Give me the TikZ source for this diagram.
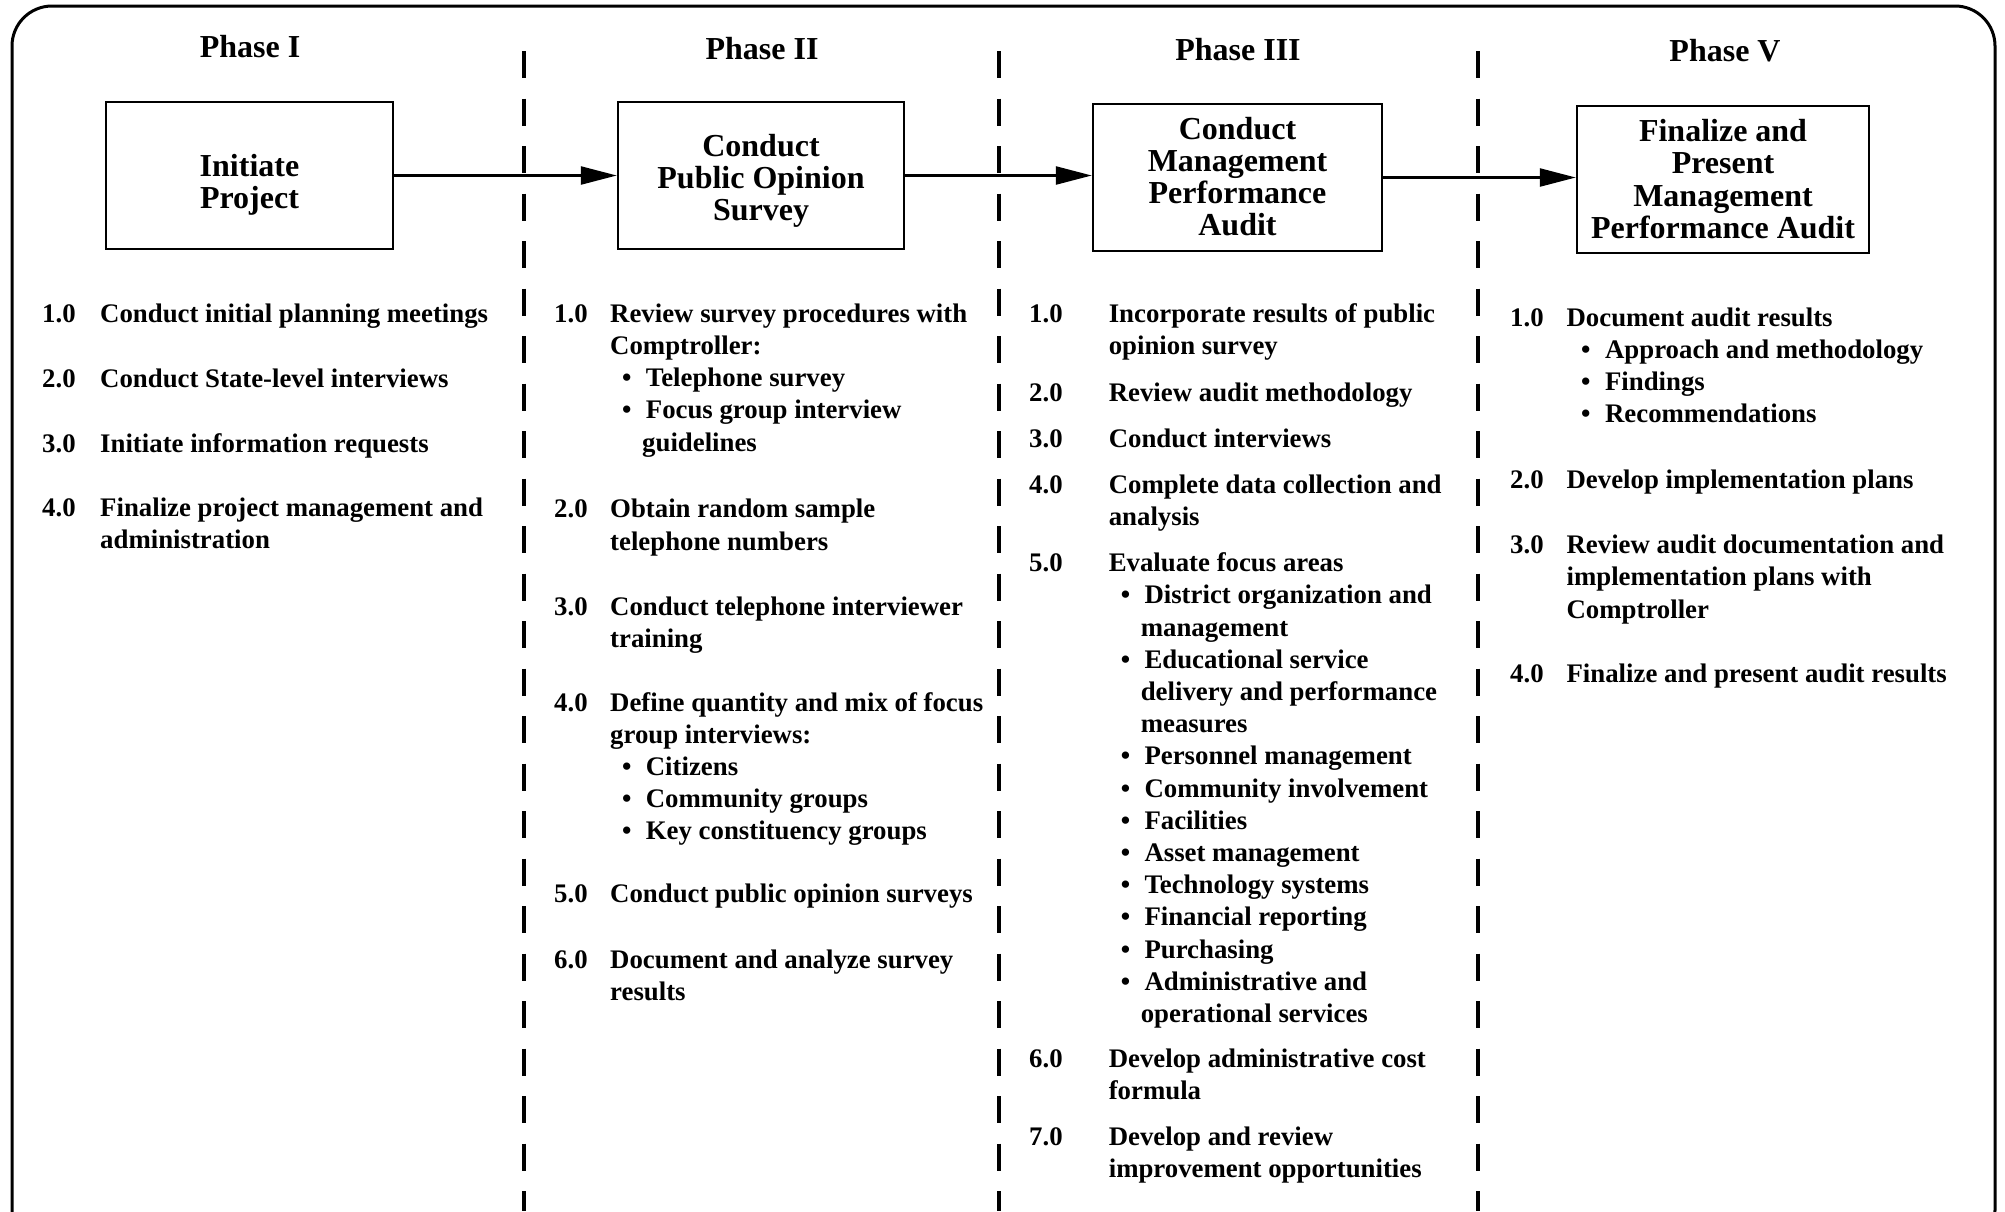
\documentclass[tikz,border=0pt]{standalone}
\usepackage{fontspec}
\setmainfont{Liberation Serif}
\usetikzlibrary{arrows.meta}

% type sizes for the task lists and for the stage boxes / headings
\newcommand\bodyfont{\fontsize{26.8}{32.2}\selectfont\bfseries}
\newcommand\boxfont{\fontsize{32}{32.3}\selectfont\bfseries}
% stacked lines whose baseline is the first line's
\newcommand\lines[1]{\begin{tabular}[t]{@{}l@{}}#1\end{tabular}}
\newcommand\clines[1]{\begin{tabular}[t]{@{}c@{}}#1\end{tabular}}
% bulleted sub-items and their continuation lines
\newcommand\bul[1]{\hspace*{12pt}\makebox[23.7pt][l]{\textbullet}#1}
\newcommand\bulw[1]{\hspace*{14.5pt}\makebox[24pt][l]{\textbullet}#1}
\newcommand\cont[1]{\hspace*{32pt}#1}

\begin{document}
\begin{tikzpicture}[x=1pt,y=-1pt,
  stage/.style={draw, line width=2.5pt, inner sep=0pt, minimum height=147pt},
  stagetext/.style={anchor=base, inner sep=0pt, font=\boxfont},
  phase/.style={anchor=base, inner sep=0pt, font=\boxfont},
  num/.style={anchor=base west, inner sep=0pt, font=\bodyfont},
  task/.style={anchor=base west, inner sep=0pt, font=\bodyfont},
  flow/.style={line width=2.5pt, -{Triangle[length=36pt,width=18pt]}},
  divider/.style={line width=3.5pt, dash pattern=on 27pt off 20.5pt},
  frame/.style={line width=3pt, rounded corners=40pt},
]
\useasboundingbox (0,0) rectangle (2005,1211);
\clip (0,0) rectangle (2005,1211);

% outer frame
\draw[frame] (12,6) rectangle (1995,1250);

% phase dividers
\coordinate (d1top) at (524,51);   \coordinate (d1bot) at (524,1211);
\coordinate (d2top) at (999,51);   \coordinate (d2bot) at (999,1211);
\coordinate (d3top) at (1478,51);  \coordinate (d3bot) at (1478,1211);
\draw[divider] (d1top) -- (d1bot);
\draw[divider] (d2top) -- (d2bot);
\draw[divider] (d3top) -- (d3bot);

% phase headings
\node[phase] (h1) at (250,57.5)  {Phase I};
\node[phase] (h2) at (762,59)    {Phase II};
\node[phase] (h3) at (1238,60.5) {Phase III};
\node[phase] (h4) at (1725,61.5) {Phase V};

% stage boxes
\node[stage, minimum width=287pt] (s1) at (249.5,175.5) {};
\node[stage, minimum width=286pt] (s2) at (761,175.5) {};
\node[stage, minimum width=289pt] (s3) at (1237.5,177.5) {};
\node[stage, minimum width=292pt] (s4) at (1723,179.5) {};
\node[stagetext] (s1t) at (249.5,176)  {\clines{Initiate\\Project}};
\node[stagetext] (s2t) at (761,156)    {\clines{Conduct\\Public Opinion\\Survey}};
\node[stagetext] (s3t) at (1237.5,139) {\clines{Conduct\\Management\\Performance\\Audit}};
\node[stagetext] (s4t) at (1723,141.5) {\clines{Finalize and\\Present\\Management\\Performance Audit}};

% flow between stages
\draw[flow] (s1.east) -- (s2.west);
\draw[flow] (s2.east) -- (s2.east -| s3.west);
\draw[flow] (s3.east) -- (s3.east -| s4.west);

% Phase I tasks
\node[num]  (a1n) at (42,322.2)  {1.0};
\node[task] (a1t) at (100,322.2) {Conduct initial planning meetings};
\node[num]  (a2n) at (42,387.4)  {2.0};
\node[task] (a2t) at (100,387.4) {Conduct State-level interviews};
\node[num]  (a3n) at (42,452.7)  {3.0};
\node[task] (a3t) at (100,452.7) {Initiate information requests};
\node[num]  (a4n) at (42,516.6)  {4.0};
\node[task] (a4t) at (100,516.6) {\lines{Finalize project management and\\administration}};

% Phase II tasks
\node[num]  (b1n) at (554,322.2) {1.0};
\node[task] (b1t) at (610,322.2) {\lines{Review survey procedures with\\Comptroller:\\
  \bul{Telephone survey}\\\bul{Focus group interview}\\\cont{guidelines}}};
\node[num]  (b2n) at (554,517.9) {2.0};
\node[task] (b2t) at (610,517.9) {\lines{Obtain random sample\\telephone numbers}};
\node[num]  (b3n) at (554,615)   {3.0};
\node[task] (b3t) at (610,615)   {\lines{Conduct telephone interviewer\\training}};
\node[num]  (b4n) at (554,711)   {4.0};
\node[task] (b4t) at (610,711)   {\lines{Define quantity and mix of focus\\group interviews:\\
  \bul{Citizens}\\\bul{Community groups}\\\bul{Key constituency groups}}};
\node[num]  (b5n) at (554,902.8) {5.0};
\node[task] (b5t) at (610,902.8) {Conduct public opinion surveys};
\node[num]  (b6n) at (554,968)   {6.0};
\node[task] (b6t) at (610,968)   {\lines{Document and analyze survey\\results}};

% Phase III tasks
\node[num]  (c1n) at (1029,322.2)   {1.0};
\node[task] (c1t) at (1108.6,322.2) {\lines{Incorporate results of public\\opinion survey}};
\node[num]  (c2n) at (1029,401.5)   {2.0};
\node[task] (c2t) at (1108.6,401.5) {Review audit methodology};
\node[num]  (c3n) at (1029,447.5)   {3.0};
\node[task] (c3t) at (1108.6,447.5) {Conduct interviews};
\node[num]  (c4n) at (1029,493.6)   {4.0};
\node[task] (c4t) at (1108.6,493.6) {\lines{Complete data collection and\\analysis}};
\node[num]  (c5n) at (1029,571.6)   {5.0};
\node[task] (c5t) at (1108.6,571.6) {\lines{Evaluate focus areas\\
  \bul{District organization and}\\\cont{management}\\
  \bul{Educational service}\\\cont{delivery and performance}\\\cont{measures}\\
  \bul{Personnel management}\\\bul{Community involvement}\\\bul{Facilities}\\
  \bul{Asset management}\\\bul{Technology systems}\\\bul{Financial reporting}\\
  \bul{Purchasing}\\\bul{Administrative and}\\\cont{operational services}}};
\node[num]  (c6n) at (1029,1067.7)   {6.0};
\node[task] (c6t) at (1108.6,1067.7) {\lines{Develop administrative cost\\formula}};
\node[num]  (c7n) at (1029,1145.7)   {7.0};
\node[task] (c7t) at (1108.6,1145.7) {\lines{Develop and review\\improvement opportunities}};

% Phase V tasks
\node[num]  (e1n) at (1510,326)     {1.0};
\node[task] (e1t) at (1566.4,326)   {\lines{Document audit results\\
  \bulw{Approach and methodology}\\\bulw{Findings}\\\bulw{Recommendations}}};
\node[num]  (e2n) at (1510,488.5)   {2.0};
\node[task] (e2t) at (1566.4,488.5) {Develop implementation plans};
\node[num]  (e3n) at (1510,553.7)   {3.0};
\node[task] (e3t) at (1566.4,553.7) {\lines{Review audit documentation and\\implementation plans with\\Comptroller}};
\node[num]  (e4n) at (1510,682.8)   {4.0};
\node[task] (e4t) at (1566.4,682.8) {Finalize and present audit results};
\end{tikzpicture}
\end{document}
